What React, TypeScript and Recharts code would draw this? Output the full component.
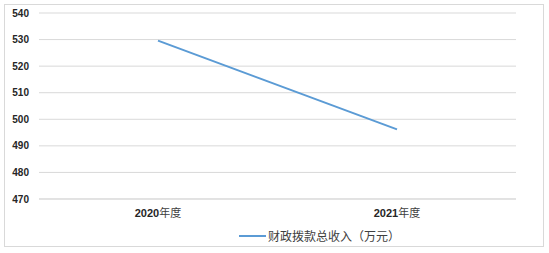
import React from "react";
import { LineChart, Line, XAxis, YAxis, CartesianGrid, Legend } from "recharts";

const categories = ["2020年度", "2021年度"];
const revenue = [529.6, 496.2];
const yTicks = [470, 480, 490, 500, 510, 520, 530, 540];
const seriesName = "财政拨款总收入（万元）";

const data = categories.map((c, i) => ({ name: c, value: revenue[i] }));

const FONT = '"Liberation Sans", "Noto Sans CJK SC", sans-serif';

const LegendContent = () => (
  <div style={{ display: "flex", alignItems: "center", justifyContent: "flex-start", paddingLeft: 239, fontFamily: FONT, fontSize: 12, color: "#404040" }}>
    <svg width={27} height={4} style={{ marginRight: 2 }}>
      <line x1={0} y1={2} x2={27} y2={2} stroke="#5b9bd5" strokeWidth={2} />
    </svg>
    <span>{seriesName}</span>
  </div>
);

const XTick = (props: any) => {
  const { x, y, payload } = props;
  const s: string = payload.value;
  const m = s.match(/^(\d+)(.*)$/);
  return (
    <text x={x} y={y + 10} textAnchor="middle" fontFamily={FONT} fontSize={11} fill="#404040">
      {m ? (
        <>
          <tspan fontWeight="bold" fill="#262626">{m[1]}</tspan>
          <tspan>{m[2]}</tspan>
        </>
      ) : s}
    </text>
  );
};

export default function App() {
  return (
    <div style={{ position: "absolute", left: 0, top: 0, width: 549, height: 253, background: "#fff" }}>
      <div style={{ position: "absolute", left: 4, top: 4, width: 540, height: 243, border: "1px solid #d9d9d9", boxSizing: "border-box" }} />
      <div style={{ position: "absolute", left: 0, top: 0 }}>
        <LineChart width={549} height={253} data={data} margin={{ top: 13, right: 33, left: 4, bottom: 12 }}>
          <CartesianGrid horizontal vertical={false} stroke="#d9d9d9" strokeWidth={1} />
          <XAxis
            dataKey="name"
            axisLine={{ stroke: "#d9d9d9" }}
            tickLine={false}
            tick={<XTick />}
            padding={{ left: 119, right: 119 }}
            height={25}
          />
          <YAxis
            domain={[470, 540]}
            ticks={yTicks}
            axisLine={false}
            tickLine={false}
            width={35}
            tick={{ fill: "#262626", fontSize: 10, fontFamily: FONT, fontWeight: "bold" }}
            tickMargin={4}
          />
          <Legend
            verticalAlign="bottom"
            content={<LegendContent />}
            wrapperStyle={{ left: 0, width: 549, top: 227 }}
          />
          <Line
            type="linear"
            dataKey="value"
            name={seriesName}
            stroke="#5b9bd5"
            strokeWidth={2}
            dot={false}
            isAnimationActive={false}
          />
        </LineChart>
      </div>
    </div>
  );
}
